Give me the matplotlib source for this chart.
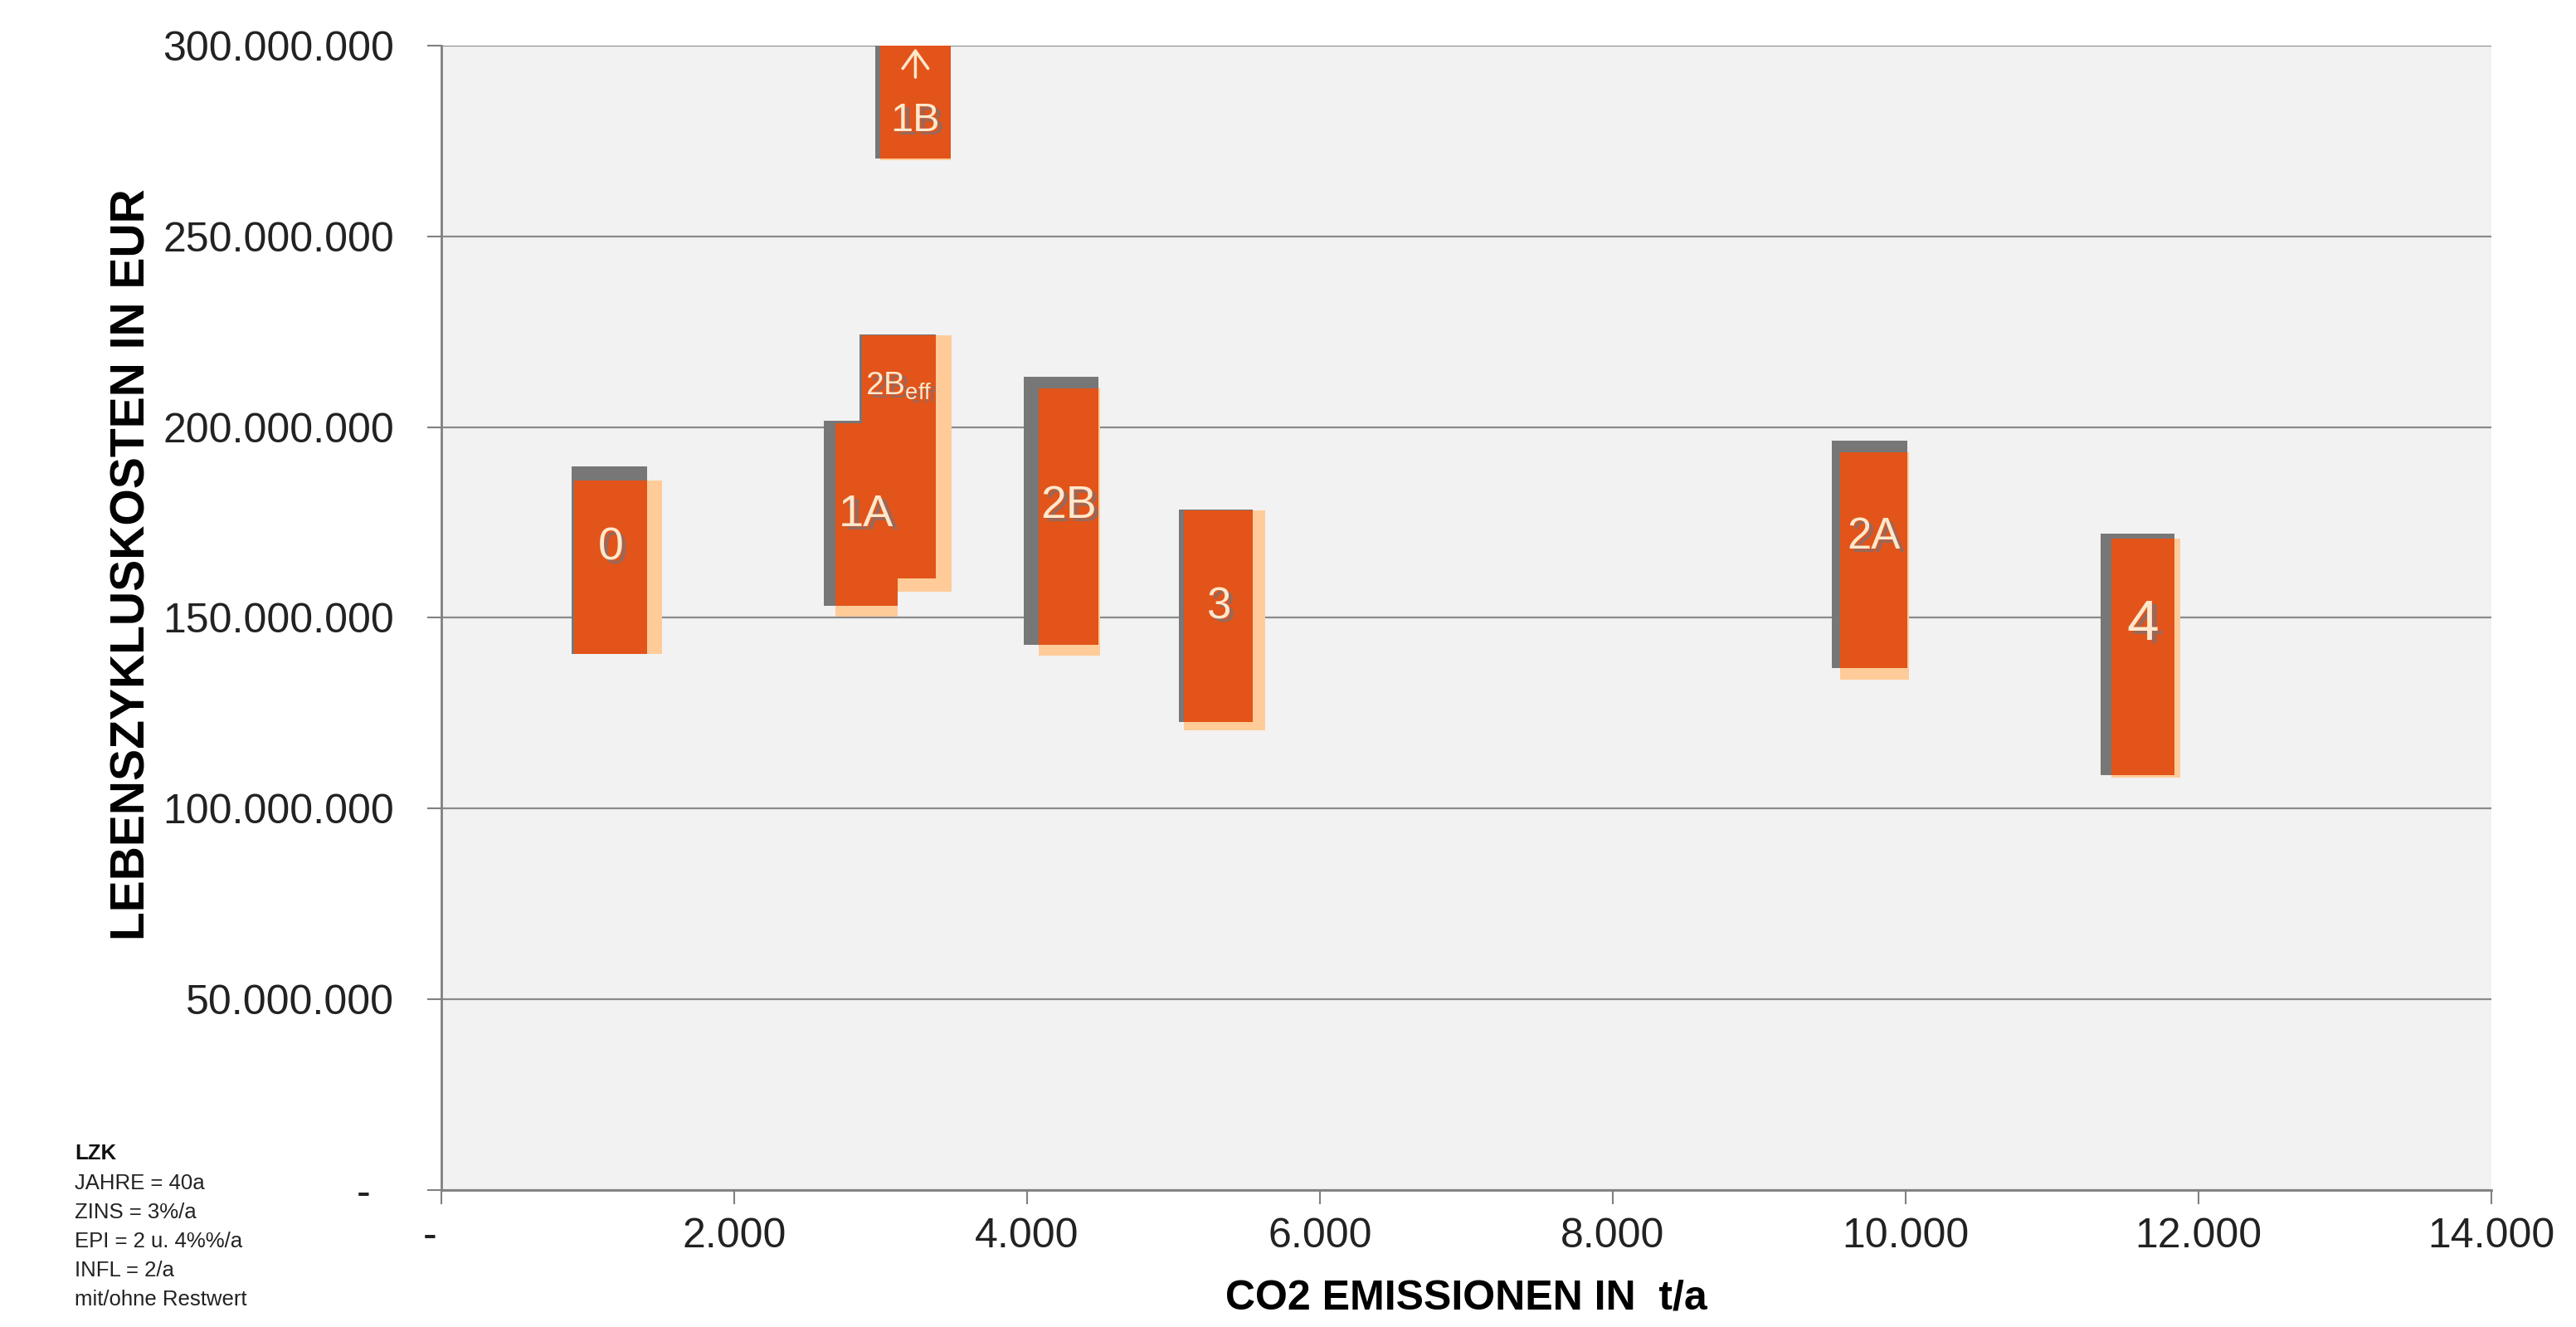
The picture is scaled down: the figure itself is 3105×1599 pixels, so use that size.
import matplotlib
matplotlib.use("Agg")
import matplotlib.pyplot as plt
import matplotlib.transforms as mtransforms
import numpy as np

plt.rcParams['font.family'] = ['Liberation Sans', 'DejaVu Sans']
plt.rcParams['mathtext.fontset'] = 'custom'
plt.rcParams['mathtext.rm'] = 'Liberation Sans'
plt.rcParams['mathtext.it'] = 'Liberation Sans'

# --- data -------------------------------------------------------------
scenarios = ['0', '1A', '2Beff', '2B', '3', '2A', '4', '1B']

# range A (grey): CO2 emissions in t/a and life-cycle costs in Mio. EUR
co2_a_lo = [890, 2612, 2856, 3977, 5035, 9496, 11331, 2963]
co2_a_hi = [1405, 3116, 3377, 4487, 5541, 10011, 11836, 3479]
lzk_a_lo = [140.5, 153.1, 160.3, 143.0, 122.8, 136.8, 108.8, 270.4]
lzk_a_hi = [189.8, 201.7, 224.3, 213.2, 178.4, 196.5, 172.1, 310.0]

# range B (light orange)
co2_b_lo = [906, 2691, 2873, 4079, 5071, 9552, 11405, 2997]
co2_b_hi = [1507, 3116, 3484, 4499, 5626, 10023, 11875, 3479]
lzk_b_lo = [140.5, 150.3, 156.8, 140.2, 120.5, 133.7, 108.1, 270.0]
lzk_b_hi = [186.0, 201.0, 224.1, 210.1, 178.2, 193.4, 170.7, 310.0]

# vertical anchor of each scenario label (Mio. EUR)
label_lzk = [168.2, 177.1, 210.8, 179.2, 152.8, 171.3, 148.1, 280.4]

x_ticks = [0, 2000, 4000, 6000, 8000, 10000, 12000, 14000]
y_ticks = [0, 50e6, 100e6, 150e6, 200e6, 250e6, 300e6]

notes = ['JAHRE = 40a', 'ZINS = 3%/a', 'EPI = 2 u. 4%%/a', 'INFL = 2/a',
         'mit/ohne Restwert']

# --- styling ----------------------------------------------------------
GREY = '#777777'
PEACH = '#FFCC99'
ORANGE = '#E2541A'
LABEL_COL = '#FFE8CC'
label_sizes = [40, 39, 28, 40, 38, 38, 50, 35]

def thousands(v):
    return f'{int(v):,}'.replace(',', '.')

fig = plt.figure(figsize=(31.05, 15.99), dpi=100)
ax = fig.add_axes([0.1713, 0.1032, 0.7958, 0.8624])
ax.set_facecolor('#F2F2F2')
ax.set_xlim(0, 14000)
ax.set_ylim(0, 300e6)

a_lo = np.array(lzk_a_lo) * 1e6
a_hi = np.array(lzk_a_hi) * 1e6
b_lo = np.array(lzk_b_lo) * 1e6
b_hi = np.array(lzk_b_hi) * 1e6
xa0, xa1 = np.array(co2_a_lo), np.array(co2_a_hi)
xb0, xb1 = np.array(co2_b_lo), np.array(co2_b_hi)

# overlap of both ranges
xo0, xo1 = np.maximum(xa0, xb0), np.minimum(xa1, xb1)
yo0, yo1 = np.maximum(a_lo, b_lo), np.minimum(a_hi, b_hi)

ax.bar(xa0, a_hi - a_lo, width=xa1 - xa0, bottom=a_lo, align='edge',
       color=GREY, linewidth=0, zorder=2)
ax.bar(xb0, b_hi - b_lo, width=xb1 - xb0, bottom=b_lo, align='edge',
       color=PEACH, linewidth=0, zorder=3)
ax.bar(xo0, yo1 - yo0, width=xo1 - xo0, bottom=yo0, align='edge',
       color=ORANGE, linewidth=0, zorder=4)

shadow = mtransforms.offset_copy(ax.transData, fig=fig, x=4, y=-3, units='points')
for i, name in enumerate(scenarios):
    txt = r'2B$_{\mathrm{eff}}$' if name == '2Beff' else name
    xc = (xo0[i] + xo1[i]) / 2
    yc = label_lzk[i] * 1e6
    ax.text(xc, yc, txt, transform=shadow, ha='center', va='center',
            fontsize=label_sizes[i], color='#6E7480', alpha=0.6, zorder=5)
    ax.text(xc, yc, txt, ha='center', va='center', fontsize=label_sizes[i],
            color=LABEL_COL, zorder=6)

# 1B exceeds the axis range: arrow pointing upwards
i1b = scenarios.index('1B')
xc1b = (xo0[i1b] + xo1[i1b]) / 2
ax.annotate('', xy=(xc1b, 299.3e6), xytext=(xc1b, 291.7e6),
            arrowprops=dict(arrowstyle='->,head_length=0.7,head_width=0.5',
                            color=LABEL_COL, lw=2.5, mutation_scale=22,
                            shrinkA=0, shrinkB=0), zorder=6)

# axes, ticks, grid
ax.set_xticks(x_ticks)
ax.set_xticklabels(['-  ' if v == 0 else thousands(v) for v in x_ticks])
ax.set_yticks(y_ticks)
ax.set_yticklabels(['-  ' if v == 0 else thousands(v) for v in y_ticks])
ax.tick_params(axis='both', direction='out', length=12, width=1.5,
               color='#808080', labelsize=36, labelcolor='#222222')
ax.tick_params(axis='y', pad=29)
ax.tick_params(axis='x', pad=12)
ax.yaxis.grid(True, color='#8A8A8A', linewidth=1.6)
ax.set_axisbelow(True)
for s in ('top', 'right'):
    ax.spines[s].set_visible(False)
for s in ('left', 'bottom'):
    ax.spines[s].set_color('#808080')
    ax.spines[s].set_linewidth(2)

ax.set_xlabel('CO2 EMISSIONEN IN  t/a', fontsize=36, fontweight='bold')
ax.xaxis.set_label_coords(0.5, -0.078)
ax.set_ylabel('LEBENSZYKLUSKOSTEN IN EUR', fontsize=41, fontweight='bold')
ax.yaxis.set_label_coords(-0.1396, 0.547)

# parameter notes
fig.text(90 / 3105, (1599 - 1397) / 1599, 'LZK', fontsize=18.5,
         fontweight='bold', va='baseline', ha='left', color='#111111')
for k, line in enumerate(notes):
    y_px = 1433 + k * 35
    fig.text(90 / 3105, (1599 - y_px) / 1599, line, fontsize=18.5,
             va='baseline', ha='left', color='#222222')

fig.savefig('out.png', dpi=100, facecolor='white')
